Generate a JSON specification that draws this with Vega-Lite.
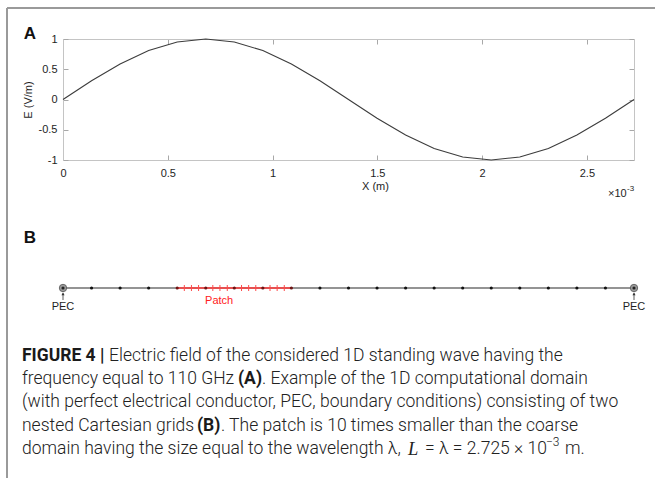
{
  "$schema": "https://vega.github.io/schema/vega-lite/v6.json",
  "padding": {"left": 6, "top": 6, "right": 0, "bottom": 0},
  "bounds": "flush",
  "spacing": 0,
  "config": {
    "view": {"stroke": null},
    "font": "Liberation Sans",
    "text": {"font": "Liberation Sans"}
  },
  "datasets": {
    "wave": [
      {"x": 0, "E": 0},
      {"x": 0.13625, "E": 0.309},
      {"x": 0.2725, "E": 0.588},
      {"x": 0.40875, "E": 0.809},
      {"x": 0.545, "E": 0.951},
      {"x": 0.68125, "E": 1},
      {"x": 0.8175, "E": 0.951},
      {"x": 0.95375, "E": 0.809},
      {"x": 1.09, "E": 0.588},
      {"x": 1.22625, "E": 0.309},
      {"x": 1.3625, "E": 0},
      {"x": 1.49875, "E": -0.309},
      {"x": 1.635, "E": -0.588},
      {"x": 1.77125, "E": -0.809},
      {"x": 1.9075, "E": -0.951},
      {"x": 2.04375, "E": -1},
      {"x": 2.18, "E": -0.951},
      {"x": 2.31625, "E": -0.809},
      {"x": 2.4525, "E": -0.588},
      {"x": 2.58875, "E": -0.309},
      {"x": 2.725, "E": 0}
    ],
    "coarse": [
      {"x": 0.13625}, {"x": 0.2725}, {"x": 0.40875},
      {"x": 1.22625}, {"x": 1.3625}, {"x": 1.49875}, {"x": 1.635},
      {"x": 1.77125}, {"x": 1.9075}, {"x": 2.04375}, {"x": 2.18},
      {"x": 2.31625}, {"x": 2.4525}, {"x": 2.58875}
    ],
    "patchNodes": [
      {"x": 0.545}, {"x": 0.68125}, {"x": 0.8175}, {"x": 0.95375}, {"x": 1.09}
    ],
    "fineNodes": [
      {"x": 0.579}, {"x": 0.613}, {"x": 0.647},
      {"x": 0.715}, {"x": 0.749}, {"x": 0.784},
      {"x": 0.852}, {"x": 0.886}, {"x": 0.920},
      {"x": 0.988}, {"x": 1.022}, {"x": 1.056}
    ],
    "pec": [{"x": 0, "label": "PEC"}, {"x": 2.725, "label": "PEC"}]
  },
  "vconcat": [
    {
      "width": 571,
      "height": 121,
      "layer": [
        {
          "data": {"values": [{"x": -0.26725, "x2": 2.8252, "y": 1.5124, "y2": 1.5124}, {"x": -0.26725, "x2": -0.26725, "y": 1.5124, "y2": -6.3}]},
          "mark": {"type": "rule", "color": "#9a9a9a", "strokeWidth": 2, "clip": false},
          "encoding": {
            "x": {"field": "x", "type": "quantitative", "axis": null},
            "x2": {"field": "x2"},
            "y": {"field": "y", "type": "quantitative", "axis": null},
            "y2": {"field": "y2"}
          }
        },
        {
          "data": {"name": "wave"},
          "mark": {"type": "line", "color": "#3c3c3c", "strokeWidth": 1.1},
          "encoding": {
            "x": {
              "field": "x", "type": "quantitative",
              "scale": {"domain": [0, 2.725], "nice": false, "zero": false},
              "axis": {
                "orient": "bottom", "values": [0, 0.5, 1, 1.5, 2, 2.5],
                "labelExpr": "'' + datum.value", "grid": false,
                "tickSize": -5, "tickColor": "#a8a8a8", "domainColor": "#c4c4c4",
                "labelFont": "Liberation Sans", "labelFontSize": 11, "labelColor": "#1e1e1e",
                "labelPadding": 12, "labelFlush": false,
                "title": "X (m)", "titleFont": "Liberation Sans", "titleFontSize": 11,
                "titleFontWeight": "normal", "titleColor": "#1e1e1e", "titlePadding": 2, "titleX": 312
              }
            },
            "y": {
              "field": "E", "type": "quantitative",
              "scale": {"domain": [-1, 1], "nice": false, "zero": false},
              "axis": {
                "orient": "left", "values": [-1, -0.5, 0, 0.5, 1],
                "labelExpr": "'' + datum.value", "grid": false,
                "tickSize": -5, "tickColor": "#a8a8a8", "domainColor": "#c4c4c4",
                "labelFont": "Liberation Sans", "labelFontSize": 11, "labelColor": "#1e1e1e",
                "labelPadding": 11, "labelFlush": false,
                "title": "E (V/m)", "titleFont": "Liberation Sans", "titleFontSize": 11,
                "titleFontWeight": "normal", "titleColor": "#1e1e1e", "titlePadding": 5
              }
            }
          }
        },
        {
          "data": {"name": "wave"},
          "mark": {"type": "line", "opacity": 0},
          "encoding": {
            "x": {
              "field": "x", "type": "quantitative",
              "axis": {"orient": "top", "values": [0, 0.5, 1, 1.5, 2, 2.5], "labels": false, "title": null, "grid": false, "tickSize": -5, "tickColor": "#a8a8a8", "domainColor": "#c4c4c4"}
            },
            "y": {
              "field": "E", "type": "quantitative",
              "axis": {"orient": "right", "values": [-1, -0.5, 0, 0.5, 1], "labels": false, "title": null, "grid": false, "tickSize": -5, "tickColor": "#a8a8a8", "domainColor": "#c4c4c4"}
            }
          }
        },
        {
          "data": {"values": [{"x": -0.1575, "y": 1.083, "label": "A"}]},
          "mark": {"type": "text", "font": "Liberation Sans", "fontSize": 17, "fontWeight": "bold", "color": "#111", "align": "center", "baseline": "middle", "clip": false},
          "encoding": {
            "x": {"field": "x", "type": "quantitative", "axis": null},
            "y": {"field": "y", "type": "quantitative", "axis": null},
            "text": {"field": "label"}
          }
        },
        {
          "data": {"values": [{"x": 2.69, "y": -1.56, "label": "×10"}]},
          "mark": {"type": "text", "font": "Liberation Sans", "fontSize": 11, "color": "#1e1e1e", "align": "right", "baseline": "middle", "clip": false},
          "encoding": {
            "x": {"field": "x", "type": "quantitative", "axis": null},
            "y": {"field": "y", "type": "quantitative", "axis": null},
            "text": {"field": "label"}
          }
        },
        {
          "data": {"values": [{"x": 2.692, "y": -1.56, "label": "-3"}]},
          "mark": {"type": "text", "font": "Liberation Sans", "fontSize": 8, "color": "#1e1e1e", "align": "left", "baseline": "middle", "dy": -5, "clip": false},
          "encoding": {
            "x": {"field": "x", "type": "quantitative", "axis": null},
            "y": {"field": "y", "type": "quantitative", "axis": null},
            "text": {"field": "label"}
          }
        }
      ],
      "resolve": {"axis": {"x": "independent", "y": "independent"}}
    },
    {
      "width": 571,
      "height": 158,
      "encoding": {
        "x": {"field": "x", "type": "quantitative", "scale": {"domain": [0, 2.725], "nice": false, "zero": false}, "axis": null}
      },
      "layer": [
        {
          "data": {"values": [{"x": 0, "x2": 2.725, "y": 0}]},
          "mark": {"type": "rule", "color": "#707070", "strokeWidth": 1.3},
          "encoding": {
            "x2": {"field": "x2"},
            "y": {"field": "y", "type": "quantitative", "scale": {"domain": [-1, 4.2667], "nice": false, "zero": false}, "axis": null}
          }
        },
        {
          "data": {"values": [{"x": 0.545, "x2": 1.09, "y": 0}]},
          "mark": {"type": "rule", "color": "#ff3b3b", "strokeWidth": 1.3},
          "encoding": {"x2": {"field": "x2"}, "y": {"field": "y", "type": "quantitative"}}
        },
        {
          "data": {"name": "fineNodes"},
          "transform": [{"calculate": "0.1", "as": "top"}, {"calculate": "-0.1", "as": "bottom"}],
          "mark": {"type": "rule", "color": "#ff4a4a", "strokeWidth": 1},
          "encoding": {"y": {"field": "top", "type": "quantitative"}, "y2": {"field": "bottom"}}
        },
        {
          "data": {"name": "coarse"},
          "transform": [{"calculate": "0", "as": "y"}],
          "mark": {"type": "circle", "color": "#111", "size": 10, "opacity": 1},
          "encoding": {"y": {"field": "y", "type": "quantitative"}}
        },
        {
          "data": {"name": "patchNodes"},
          "transform": [{"calculate": "0", "as": "y"}],
          "mark": {"type": "circle", "color": "#6e1414", "size": 10, "opacity": 1},
          "encoding": {"y": {"field": "y", "type": "quantitative"}}
        },
        {
          "data": {"name": "pec"},
          "transform": [{"calculate": "0", "as": "y"}],
          "mark": {"type": "circle", "color": "#9a9a9a", "size": 55, "opacity": 1, "stroke": "#555", "strokeWidth": 0.8},
          "encoding": {"y": {"field": "y", "type": "quantitative"}}
        },
        {
          "data": {"name": "pec"},
          "transform": [{"calculate": "0", "as": "y"}],
          "mark": {"type": "circle", "color": "#222", "size": 10, "opacity": 1},
          "encoding": {"y": {"field": "y", "type": "quantitative"}}
        },
        {
          "data": {"name": "pec"},
          "transform": [{"calculate": "-0.16", "as": "y"}, {"calculate": "-0.4", "as": "y2"}],
          "mark": {"type": "rule", "color": "#333", "strokeWidth": 0.8},
          "encoding": {"y": {"field": "y", "type": "quantitative"}, "y2": {"field": "y2"}}
        },
        {
          "data": {"name": "pec"},
          "transform": [{"calculate": "-0.2", "as": "y"}],
          "mark": {"type": "point", "shape": "triangle-up", "filled": true, "color": "#333", "size": 10, "opacity": 1},
          "encoding": {"y": {"field": "y", "type": "quantitative"}}
        },
        {
          "data": {"name": "pec"},
          "transform": [{"calculate": "-0.64", "as": "y"}],
          "mark": {"type": "text", "font": "Liberation Sans", "fontSize": 11, "color": "#1e1e1e", "align": "center", "baseline": "middle", "clip": false},
          "encoding": {"y": {"field": "y", "type": "quantitative"}, "text": {"field": "label"}}
        },
        {
          "data": {"values": [{"x": 0.745, "y": -0.44, "label": "Patch"}]},
          "mark": {"type": "text", "font": "Liberation Sans", "fontSize": 11, "color": "#ff2020", "align": "center", "baseline": "middle"},
          "encoding": {"y": {"field": "y", "type": "quantitative"}, "text": {"field": "label"}}
        },
        {
          "data": {"values": [{"x": -0.1575, "y": 1.667, "label": "B"}]},
          "mark": {"type": "text", "font": "Liberation Sans", "fontSize": 17, "fontWeight": "bold", "color": "#111", "align": "center", "baseline": "middle", "clip": false},
          "encoding": {"y": {"field": "y", "type": "quantitative"}, "text": {"field": "label"}}
        }
      ]
    },
    {
      "width": 571,
      "height": 161,
      "data": {"values": [
        {"line": 1, "col": 0, "kind": "bold", "text": "FIGURE 4 |"},
        {"line": 1, "col": 4.35, "kind": "plain", "text": "Electric field of the considered 1D standing wave having the"},
        {"line": 2, "col": 0, "kind": "plain", "text": "frequency equal to 110 GHz"},
        {"line": 2, "col": 10.8, "kind": "bold", "text": "(A)"},
        {"line": 2, "col": 12.0, "kind": "plain", "text": ". Example of the 1D computational domain"},
        {"line": 3, "col": 0, "kind": "plain", "text": "(with perfect electrical conductor, PEC, boundary conditions) consisting of two"},
        {"line": 4, "col": 0, "kind": "plain", "text": "nested Cartesian grids"},
        {"line": 4, "col": 8.75, "kind": "bold", "text": "(B)"},
        {"line": 4, "col": 9.95, "kind": "plain", "text": ". The patch is 10 times smaller than the coarse"},
        {"line": 5, "col": 0, "kind": "plain", "text": "domain having the size equal to the wavelength λ,"},
        {"line": 5, "col": 19.3, "kind": "italic", "text": "L"},
        {"line": 5, "col": 20.15, "kind": "plain", "text": "= λ = 2.725 × 10"},
        {"line": 5, "col": 26.2, "kind": "sup", "text": "−3"},
        {"line": 5, "col": 27.15, "kind": "plain", "text": "m."}
      ]},
      "encoding": {
        "x": {"field": "col", "type": "quantitative", "scale": {"domain": [2.05, 30.6], "nice": false, "zero": false}, "axis": null},
        "y": {"field": "line", "type": "quantitative", "scale": {"domain": [-0.634, 6.291], "reverse": true, "nice": false, "zero": false}, "axis": null},
        "text": {"field": "text"}
      },
      "layer": [
        {
          "transform": [{"filter": "datum.kind === 'plain'"}],
          "mark": {"type": "text", "font": "Roboto", "fontSize": 17.5, "fontWeight": 300, "color": "#222", "align": "left", "baseline": "middle", "clip": false}
        },
        {
          "transform": [{"filter": "datum.kind === 'bold'"}],
          "mark": {"type": "text", "font": "Roboto", "fontSize": 17.5, "fontWeight": "bold", "color": "#1a1a1a", "align": "left", "baseline": "middle", "clip": false}
        },
        {
          "transform": [{"filter": "datum.kind === 'italic'"}],
          "mark": {"type": "text", "font": "Liberation Serif", "fontSize": 18.5, "fontStyle": "italic", "color": "#222", "align": "left", "baseline": "middle", "clip": false}
        },
        {
          "transform": [{"filter": "datum.kind === 'sup'"}],
          "mark": {"type": "text", "font": "Roboto", "fontSize": 12, "fontWeight": 300, "color": "#222", "align": "left", "baseline": "middle", "dy": -7, "clip": false}
        }
      ]
    }
  ]
}
